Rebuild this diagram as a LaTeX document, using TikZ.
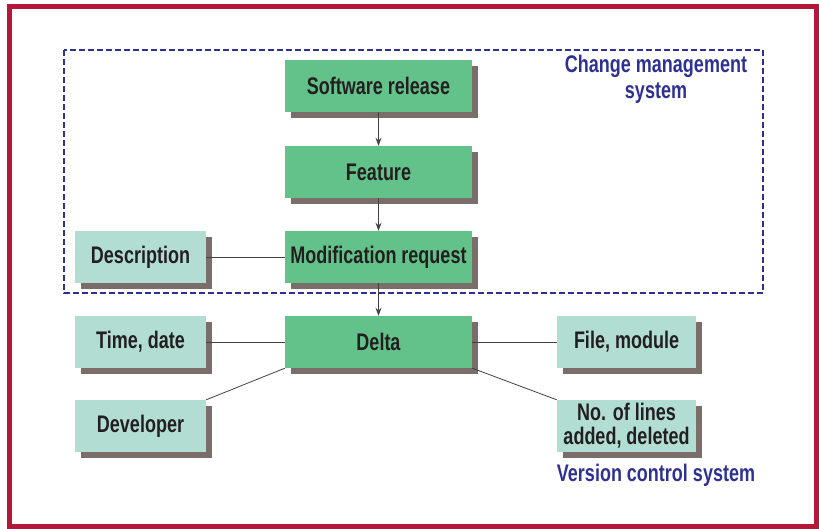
\documentclass[tikz,border=0pt]{standalone}
\usepackage{fontspec}
\setmainfont[FakeStretch=0.75]{Liberation Sans}
\usetikzlibrary{arrows.meta,shadows}
\definecolor{framered}{HTML}{B5173A}
\definecolor{cmsblue}{HTML}{2E3192}
\definecolor{darkgreen}{HTML}{63C28A}
\definecolor{lightgreen}{HTML}{B2DDD3}
\definecolor{shadowgray}{HTML}{7B6E6A}
\definecolor{txt}{HTML}{231F20}
\tikzset{
  box/.style={inner sep=0pt, text=txt, align=center,
    font=\fontsize{24}{24}\selectfont\bfseries,
    drop shadow={shadow xshift=6pt, shadow yshift=-6pt, fill=shadowgray, opacity=1}},
  entity/.style={box, fill=darkgreen, minimum width=187pt, minimum height=52pt},
  attr/.style={box, fill=lightgreen, minimum width=131pt, minimum height=52pt},
  attrwide/.style={attr, minimum width=139pt},
  link/.style={line width=0.8pt, draw=txt!85},
  syslabel/.style={text=cmsblue, align=center, font=\fontsize{24}{26}\selectfont\bfseries}
}
\begin{document}
\begin{tikzpicture}[x=1pt,y=-1pt,>={Stealth[length=8pt,width=6pt]}]
\useasboundingbox (0,0) rectangle (819,529);
\draw[framered, line width=5pt](9.5,6.5) rectangle (816.5,526.5);
% change management system
\draw[cmsblue, line width=2.2pt, dash pattern=on 6pt off 3pt](64,50) rectangle (763,293);
\node[syslabel] (cms) at (656,79) {Change management\\system};
\node[entity] (rel) at (378.5,86) {Software release};
\node[entity] (feat) at (378.5,172) {Feature};
\node[entity] (mr) at (378.5,257) {Modification request};
\node[attr] (desc) at (140.5,257) {Description};
% version control system
\node[entity] (delta) at (378.5,342) {Delta};
\node[attr] (td) at (140.5,342) {Time, date};
\node[attr] (dev) at (140.5,426) {Developer};
\node[attrwide] (fm) at (626.5,342) {File, module};
\node[attrwide] (nol) at (626.5,426) {No. of lines\\added, deleted};
\node[syslabel] (vcs) at (656,475) {Version control system};
\draw[->, link](rel)--(feat);
\draw[->, link](feat)--(mr);
\draw[->, link](mr)--(delta);
\draw[link](desc)--(mr);
\draw[link](td)--(delta);
\draw[link](dev.north east)--(delta.south west);
\draw[link](delta)--(fm);
\draw[link](delta.south east)--(nol.north west);
\end{tikzpicture}
\end{document}
